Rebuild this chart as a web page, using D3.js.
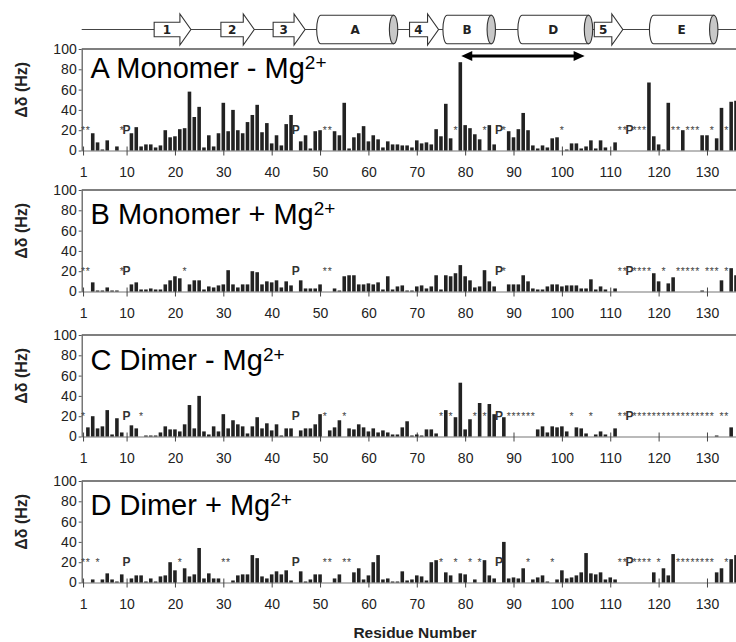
<!DOCTYPE html>
<html>
<head>
<meta charset="utf-8">
<script src="https://cdn.jsdelivr.net/npm/d3@7"></script>
<style>
  body { margin: 0; background: #fff; }
  svg { display: block; }
</style>
</head>
<body>
<div class="chart"></div>
<script>
// DATA //

// Tick labels on the residue axis
const residueTicks = [1, 10, 20, 30, 40, 50, 60, 70, 80, 90, 100, 110, 120, 130];
const yTicks = [0, 20, 40, 60, 80, 100];

// Prolines (no amide signal), shown as "P"
const prolines = [10, 45, 87, 114];

// Δδ (Hz) per residue 1..136, null = unassigned (drawn as "*", or "P" for prolines)
const monomerNoMg = [
  null, null, 17, 8, 1, 10, 0, 4, null, null,
  17, 23, 4, 6, 6, 3, 5, 20, 13, 14,
  21, 22, 58, 33, 43, 3, 15, 4, 17, 47,
  19, 40, 20, 17, 28, 35, 45, 18, 27, 7,
  15, 5, 26, 35, null, 9, 15, 2, 19, 20,
  null, null, 19, 15, 47, 2, 13, 17, 24, 9,
  15, 11, 3, 9, 6, 6, 5, 5, 3, 10,
  7, 8, 6, 21, 14, 46, 12, null, 87, 25,
  22, 16, 11, null, 25, 6, null, null, 19, 13,
  21, 37, 20, 5, 2, 5, 3, 12, 13, null,
  1, 7, 7, 2, 4, 10, 2, 10, 3, 0,
  8, null, null, null, null, null, null, 67, 14, 6,
  1, 47, null, null, 20, null, null, null, 15, 15,
  null, 12, 42, null, 48, 49
];

const monomerMg = [
  null, null, 9, 1, 1, 4, 1, 1, null, null,
  7, 9, 2, 2, 3, 2, 2, 7, 11, 15,
  13, null, 7, 11, 11, 2, 5, 4, 6, 7,
  21, 7, 4, 7, 7, 20, 19, 7, 10, 9,
  11, 4, 10, 6, null, 11, 3, 3, 3, 7,
  null, null, 3, 1, 15, 16, 16, 7, 7, 8,
  7, 9, 2, 15, 2, 5, 6, 1, 1, 5,
  6, 3, 5, 16, 2, 16, 15, 18, 26, 15,
  11, 4, 5, 21, 10, 5, null, null, 7, 7,
  7, 16, 10, 3, 2, 2, 5, 7, 7, 5,
  6, 6, 6, 3, 3, 12, 2, 5, 2, 0,
  3, null, null, null, null, null, null, null, 18, 10,
  null, 8, 14, null, null, null, null, null, 1, null,
  null, null, 11, null, 23, 16
];

const dimerNoMg = [
  null, 9, 20, 8, 10, 26, 2, 18, 4, null,
  11, 8, null, 1, 1, 1, 4, 10, 7, 7,
  5, 12, 31, 8, 40, 5, 2, 10, 5, 22,
  8, 16, 12, 10, 3, 10, 19, 8, 13, 6,
  12, 1, 8, 8, null, 6, 8, 8, 12, 22,
  null, 6, 9, 16, null, 8, 7, 12, 9, 5,
  8, 4, 6, 4, 2, 2, 9, 15, 1, 2,
  1, 7, 7, 3, null, 26, null, 19, 53, 7,
  17, null, 33, null, 32, 22, null, 19, null, null,
  null, null, null, null, 7, 10, 4, 10, 9, 10,
  5, null, 9, 8, 3, null, 2, 5, 2, 0,
  8, null, null, null, null, null, null, null, null, null,
  null, null, null, null, null, null, null, null, null, null,
  null, 1, null, null, 9, 0
];

const dimerMg = [
  null, null, 3, null, 3, 9, 3, 1, 8, null,
  4, 7, 7, 1, 4, 1, 6, 7, 20, 12,
  null, 14, 6, 8, 34, 4, 9, 4, 4, null,
  null, 2, 7, 8, 8, 27, 24, 6, 4, 8,
  11, 8, 12, 2, null, 11, 1, 3, 8, 8,
  null, null, 4, 8, null, null, 10, 14, 3, 7,
  20, 27, 3, 4, 1, 1, 11, 2, 3, 7,
  6, 2, 20, 22, null, 10, 7, null, 9, 8,
  null, 3, null, 22, 7, 4, null, 40, 4, 5,
  4, 14, null, 3, 5, 7, 1, null, 3, 12,
  4, 5, 7, 10, 29, 9, 8, 10, 3, 5,
  3, null, null, null, null, null, null, null, 10, null,
  14, 7, 28, null, null, null, null, null, null, null,
  null, 10, 14, null, 23, 27
];

const panelNames = ["A Monomer - Mg", "B Monomer + Mg", "C Dimer - Mg", "D Dimer + Mg"];
const panelSeries = [monomerNoMg, monomerMg, dimerNoMg, dimerMg];

// Secondary structure (residue ranges)
const strandNames = ["1", "2", "3", "4", "5"];
const strandStarts = [15.7, 29.5, 40.3, 68.5, 106.7];
const strandEnds = [23.3, 36.4, 46.9, 74.5, 112.6];
const helixNames = ["A", "B", "D", "E"];
const helixStarts = [49.3, 75.4, 90.9, 118.1];
const helixEnds = [65.2, 85.4, 105.5, 131.4];
const spanArrow = [79.2, 104.7];

// LAYOUT //
const w = 736;
const h = 642;
const axisX = 81.7;
const panelTops = [49, 190, 335, 481];
const panelH = 101.5;
const titleOffsets = [29, 34, 35, 34];
const font = "'Liberation Sans', Arial, sans-serif";

const svg = d3
  .select(".chart")
  .append("svg")
  .attr("width", w)
  .attr("height", h);

// x: residue number -> pixel (bar centres)
const xScale = d3.scaleLinear().domain([0.72, 136]).range([axisX, w]);
const barW = (xScale(2) - xScale(1)) * 0.74;

// SECONDARY STRUCTURE //
const ssY = 29.5;
const ss = svg.append("g");

ss.append("line")
  .attr("x1", axisX)
  .attr("x2", w)
  .attr("y1", ssY)
  .attr("y2", ssY)
  .attr("stroke", "#444")
  .attr("stroke-width", 1);

strandNames.forEach((name, i) => {
  const s = xScale(strandStarts[i]);
  const tip = xScale(strandEnds[i]);
  const hd = tip - 11;
  const pts = [
    [s, ssY - 7.3], [hd, ssY - 7.3], [hd, ssY - 15.5], [tip, ssY],
    [hd, ssY + 15.5], [hd, ssY + 7.3], [s, ssY + 7.3]
  ];
  ss.append("polygon")
    .attr("points", pts.map((p) => p.join(",")).join(" "))
    .attr("fill", "#fff")
    .attr("stroke", "#333")
    .attr("stroke-width", 1.1);
  ss.append("text")
    .text(name)
    .attr("x", (s + hd) / 2)
    .attr("y", ssY + 4.5)
    .attr("text-anchor", "middle")
    .attr("font-family", "'DejaVu Sans', Verdana, sans-serif")
    .attr("font-weight", "bold")
    .attr("font-size", 12)
    .attr("fill", "#222");
});

helixNames.forEach((name, i) => {
  const l = xScale(helixStarts[i]);
  const rc = xScale(helixEnds[i]);
  const rx = 4.2;
  const ry = 14.2;
  const top = ssY - ry;
  const bot = ssY + ry;
  ss.append("path")
    .attr(
      "d",
      `M${l + rx},${top} H${rc} V${bot} H${l + rx} A${rx},${ry} 0 0 1 ${l + rx},${top} Z`
    )
    .attr("fill", "#fff")
    .attr("stroke", "#333")
    .attr("stroke-width", 1.1);
  ss.append("ellipse")
    .attr("cx", rc)
    .attr("cy", ssY)
    .attr("rx", rx)
    .attr("ry", ry)
    .attr("fill", "#c8c8c8")
    .attr("stroke", "#333")
    .attr("stroke-width", 1.1);
  ss.append("text")
    .text(name)
    .attr("x", (l + rc) / 2)
    .attr("y", ssY + 4.5)
    .attr("text-anchor", "middle")
    .attr("font-family", "'DejaVu Sans', Verdana, sans-serif")
    .attr("font-weight", "bold")
    .attr("font-size", 12)
    .attr("fill", "#222");
});

// PANELS //
panelSeries.forEach((series, p) => {
  const top = panelTops[p];
  const yScale = d3.scaleLinear().domain([0, 100]).range([top + panelH, top]);
  const zero = yScale(0);
  const g = svg.append("g");

  // top frame line
  g.append("line")
    .attr("x1", axisX)
    .attr("x2", w)
    .attr("y1", yScale(100))
    .attr("y2", yScale(100))
    .attr("stroke", "#555")
    .attr("stroke-width", 1.3);

  // y axis
  const yAxis = g
    .append("g")
    .attr("transform", `translate(${axisX},0)`)
    .call(d3.axisLeft(yScale).tickValues(yTicks).tickSize(3).tickSizeOuter(0).tickPadding(2));
  yAxis.select(".domain").attr("stroke", "#555").attr("stroke-width", 1.2);
  yAxis.selectAll(".tick line").attr("stroke", "#555");
  yAxis.selectAll("text")
    .attr("font-family", font)
    .attr("font-size", 14)
    .attr("fill", "#222");

  // x axis (ticks cross the axis)
  const xAxis = g
    .append("g")
    .attr("transform", `translate(0,${zero})`)
    .call(d3.axisBottom(xScale).tickValues(residueTicks).tickSize(5).tickSizeOuter(0).tickPadding(12));
  xAxis.select(".domain").attr("stroke", "#777").attr("stroke-width", 1.1);
  xAxis.selectAll(".tick line").attr("y1", -4).attr("stroke", "#444");
  xAxis.selectAll("text")
    .attr("font-family", "'Liberation Sans Narrow', 'Arial Narrow', " + font)
    .attr("font-size", 14)
    .attr("fill", "#222");

  const rows = series.map((v, i) => ({ res: i + 1, v }));

  // bars
  g.selectAll("rect.bar")
    .data(rows.filter((d) => d.v !== null && d.v > 0))
    .enter()
    .append("rect")
    .attr("class", "bar")
    .attr("x", (d) => xScale(d.res) - barW / 2)
    .attr("y", (d) => yScale(d.v))
    .attr("width", barW)
    .attr("height", (d) => zero - yScale(d.v))
    .attr("fill", "#222");

  // unassigned residues
  g.selectAll("text.star")
    .data(rows.filter((d) => d.v === null && !prolines.includes(d.res)))
    .enter()
    .append("text")
    .attr("class", "star")
    .text("*")
    .attr("x", (d) => xScale(d.res))
    .attr("y", yScale(16.5))
    .attr("text-anchor", "middle")
    .attr("font-family", font)
    .attr("font-size", 10.5)
    .attr("fill", "#444");

  // prolines
  g.selectAll("text.pro")
    .data(prolines)
    .enter()
    .append("text")
    .attr("class", "pro")
    .text("P")
    .attr("x", (d) => xScale(d))
    .attr("y", yScale(16.5))
    .attr("text-anchor", "middle")
    .attr("font-family", font)
    .attr("font-weight", "bold")
    .attr("font-size", 12)
    .attr("fill", "#333");

  // panel title
  const title = g
    .append("text")
    .attr("x", 90.5)
    .attr("y", top + titleOffsets[p])
    .attr("font-family", font)
    .attr("font-size", 29)
    .attr("fill", "#000");
  title.append("tspan").text(panelNames[p]);
  title.append("tspan").text("2+").attr("font-size", 19).attr("dy", -9);

  // y label
  g.append("text")
    .text("Δδ (Hz)")
    .attr("transform", `translate(27,${top + panelH / 2 - 10}) rotate(-90)`)
    .attr("text-anchor", "middle")
    .attr("font-family", font)
    .attr("font-weight", "bold")
    .attr("font-size", 16)
    .attr("fill", "#222");
});

// Double-headed arrow over helices B-D
const ax1 = xScale(spanArrow[0]);
const ax2 = xScale(spanArrow[1]);
const ay = 56;
svg.append("line")
  .attr("x1", ax1 + 8)
  .attr("x2", ax2 - 8)
  .attr("y1", ay)
  .attr("y2", ay)
  .attr("stroke", "#000")
  .attr("stroke-width", 3);
svg.append("polygon")
  .attr("points", `${ax1},${ay} ${ax1 + 11},${ay - 5} ${ax1 + 11},${ay + 5}`)
  .attr("fill", "#000");
svg.append("polygon")
  .attr("points", `${ax2},${ay} ${ax2 - 11},${ay - 5} ${ax2 - 11},${ay + 5}`)
  .attr("fill", "#000");

// Axis title
svg.append("text")
  .text("Residue Number")
  .attr("x", 415)
  .attr("y", 638)
  .attr("text-anchor", "middle")
  .attr("font-family", font)
  .attr("font-weight", "bold")
  .attr("font-size", 15.5)
  .attr("fill", "#222");
</script>
</body>
</html>
